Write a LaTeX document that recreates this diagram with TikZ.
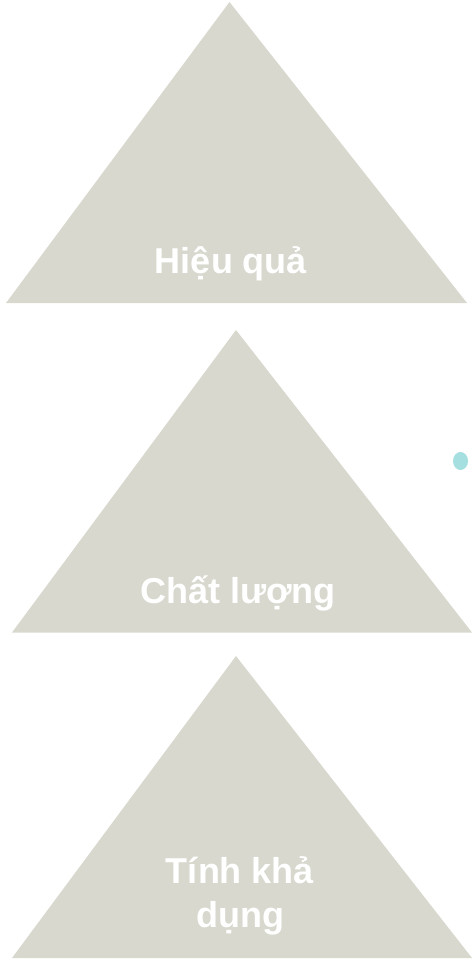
\documentclass[tikz,border=0pt]{standalone}
\usepackage{fontspec}
\setmainfont{Liberation Sans}
\definecolor{trigray}{HTML}{D8D8CF}
\definecolor{dotteal}{HTML}{A5DFE0}
\begin{document}
\begin{tikzpicture}[x=1pt,y=-1pt,
  tri/.style={fill=trigray},
  lbl/.style={text=white,font=\bfseries\fontsize{36}{44}\selectfont,align=center,inner sep=0pt}]
\useasboundingbox (0,0) rectangle (472,960);
\fill[tri] (229.5,2) -- (467,303) -- (6,303) -- cycle;
\fill[tri] (236,330) -- (472,632.5) -- (12,632.5) -- cycle;
\fill[tri] (236,656) -- (472,958) -- (12,958) -- cycle;
\fill[dotteal] (460.5,461) ellipse [x radius=7.5, y radius=9];
\node[lbl,anchor=base] (t1) at (231,273) {Hiệu quả};
\node[lbl,anchor=base] (t2) at (238,603) {Chất lượng};
\node[lbl,anchor=base] (t3) at (240,927) {Tính khả\\dụng};
\end{tikzpicture}
\end{document}
